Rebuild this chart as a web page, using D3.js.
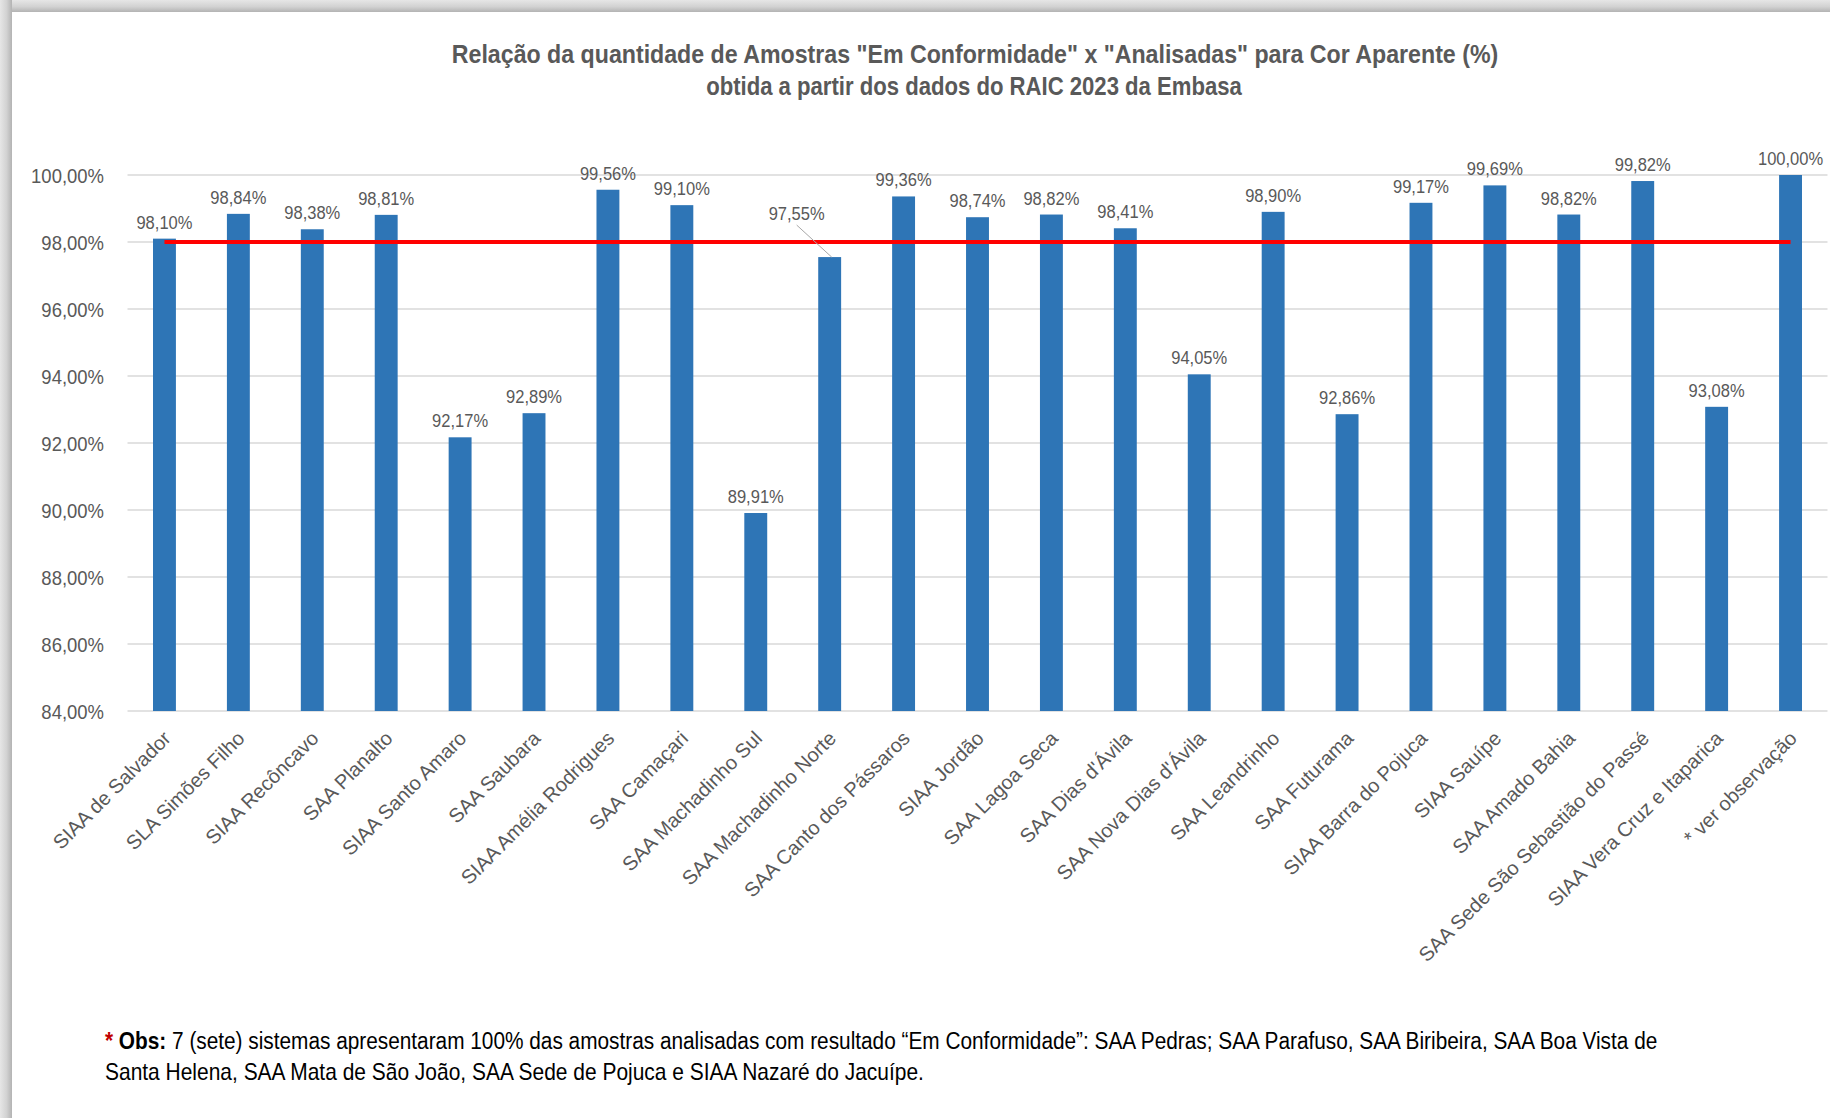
<!DOCTYPE html>
<html>
<head>
<meta charset="utf-8">
<script src="https://cdn.jsdelivr.net/npm/d3@7"></script>
<style>
  html, body { margin: 0; padding: 0; background: #fff; }
  svg { display: block; }
  text { font-family: "Liberation Sans", Arial, sans-serif; }
</style>
</head>
<body>
<svg id="chart" width="1830" height="1118"></svg>
<script>
// ---- data ----
const categories = [
  "SIAA de Salvador", "SLA Simões Filho", "SIAA Recôncavo", "SAA Planalto",
  "SIAA Santo Amaro", "SAA Saubara", "SIAA Amélia Rodrigues", "SAA Camaçari",
  "SAA Machadinho Sul", "SAA Machadinho Norte", "SAA Canto dos Pássaros", "SIAA Jordão",
  "SAA Lagoa Seca", "SAA Dias d'Ávila", "SAA Nova Dias d'Ávila", "SAA Leandrinho",
  "SAA Futurama", "SIAA Barra do Pojuca", "SIAA Sauípe", "SAA Amado Bahia",
  "SAA Sede São Sebastião do Passé", "SIAA Vera Cruz e Itaparica", "* ver observação"
];
const values = [
  98.10, 98.84, 98.38, 98.81, 92.17, 92.89, 99.56, 99.10, 89.91, 97.55, 99.36, 98.74,
  98.82, 98.41, 94.05, 98.90, 92.86, 99.17, 99.69, 98.82, 99.82, 93.08, 100.00
];
const yTicks = [84, 86, 88, 90, 92, 94, 96, 98, 100];
const targetValue = 98;
const titleLines = [
  "Relação da quantidade de Amostras \"Em Conformidade\" x \"Analisadas\" para Cor Aparente (%)",
  "obtida a partir dos dados do RAIC 2023 da Embasa"
];
const obsLine1Rest = " 7 (sete) sistemas apresentaram 100% das amostras analisadas com resultado “Em Conformidade”: SAA Pedras; SAA Parafuso, SAA Biribeira, SAA Boa Vista de";
const obsLine2 = "Santa Helena, SAA Mata de São João, SAA Sede de Pojuca e SIAA Nazaré do Jacuípe.";

// ---- setup ----
const W = 1830, H = 1118;
const svg = d3.select("#chart");
const locale = d3.formatLocale({decimal: ",", thousands: ".", grouping: [3], currency: ["", ""]});
const fmt = v => locale.format(".2f")(v) + "%";

// frame shadow
const defs = svg.append("defs");
const gTop = defs.append("linearGradient").attr("id", "shTop").attr("x1", 0).attr("y1", 0).attr("x2", 0).attr("y2", 1);
gTop.append("stop").attr("offset", "0%").attr("stop-color", "#e6e6e6");
gTop.append("stop").attr("offset", "55%").attr("stop-color", "#d2d2d2");
gTop.append("stop").attr("offset", "100%").attr("stop-color", "#b3b3b3");
const gLeft = defs.append("linearGradient").attr("id", "shLeft").attr("x1", 0).attr("y1", 0).attr("x2", 1).attr("y2", 0);
gLeft.append("stop").attr("offset", "0%").attr("stop-color", "#e6e6e6");
gLeft.append("stop").attr("offset", "55%").attr("stop-color", "#d2d2d2");
gLeft.append("stop").attr("offset", "100%").attr("stop-color", "#b3b3b3");

svg.append("rect").attr("width", W).attr("height", H).attr("fill", "#fff");
svg.append("rect").attr("x", 0).attr("y", 0).attr("width", W).attr("height", 12).attr("fill", "url(#shTop)");
svg.append("rect").attr("x", 0).attr("y", 0).attr("width", 12).attr("height", H).attr("fill", "url(#shLeft)");

// scales
const x = d3.scaleBand().domain(categories).range([127.5, 1827.5]).paddingInner(0.69).paddingOuter(0.345);
const y = d3.scaleLinear().domain([84, 100]).range([711, 175]);
const cx = c => x(c) + x.bandwidth() / 2;

// helper: fit text horizontally
function fit(sel, tx, ty, targetW) {
  const w = sel.node().getComputedTextLength();
  const k = targetW / w;
  sel.attr("transform", `translate(${tx},${ty}) scale(${k},1)`);
}

// title
const title = svg.append("g");
const t1 = title.append("text").attr("text-anchor", "middle").attr("font-weight", "bold")
  .attr("font-size", 25).attr("fill", "#595959").text(titleLines[0]);
fit(t1, 975, 63, 1047);
const t2 = title.append("text").attr("text-anchor", "middle").attr("font-weight", "bold")
  .attr("font-size", 25).attr("fill", "#595959").text(titleLines[1]);
fit(t2, 974, 95, 536);

// gridlines
svg.append("g").selectAll("line").data(yTicks).join("line")
  .attr("x1", x.range()[0]).attr("x2", x.range()[1])
  .attr("y1", d => y(d)).attr("y2", d => y(d))
  .attr("stroke", "#d9d9d9").attr("stroke-width", 1.5);

// y axis labels
const yAxis = d3.axisLeft(y).tickValues(yTicks).tickFormat(fmt).tickSize(0).tickPadding(0);
const yg = svg.append("g").attr("transform", "translate(104,0)").call(yAxis);
yg.select(".domain").remove();
yg.selectAll(".tick text")
  .attr("font-family", "Liberation Sans, Arial, sans-serif")
  .attr("font-size", 21).attr("fill", "#595959")
  .attr("x", 0).attr("dy", "0.35em")
  .attr("transform", "scale(0.88,1)");

// bars
svg.append("g").selectAll("rect").data(values).join("rect")
  .attr("x", (d, i) => x(categories[i]))
  .attr("width", x.bandwidth())
  .attr("y", d => y(d))
  .attr("height", d => y(84) - y(d))
  .attr("fill", "#2E75B6");

// target line
svg.append("line")
  .attr("x1", cx(categories[0])).attr("x2", cx(categories[categories.length - 1]))
  .attr("y1", y(targetValue)).attr("y2", y(targetValue))
  .attr("stroke", "#FF0000").attr("stroke-width", 4);

// data labels
const offsets = {9: [-33, -27]};
const lg = svg.append("g");
values.forEach((v, i) => {
  const c = cx(categories[i]);
  const top = y(v);
  const off = offsets[i] || [0, 0];
  const lx = c + off[0];
  const ly = top - 10 + off[1];
  if (offsets[i]) {
    lg.append("line").attr("x1", lx).attr("y1", ly + 5).attr("x2", c + 2).attr("y2", top)
      .attr("stroke", "#a6a6a6").attr("stroke-width", 1);
  }
  lg.append("text").attr("text-anchor", "middle").attr("font-size", 19).attr("fill", "#595959")
    .attr("transform", `translate(${lx},${ly}) scale(0.87,1)`).text(fmt(v));
});

// x labels
svg.append("g").selectAll("text").data(categories).join("text")
  .attr("text-anchor", "end")
  .attr("font-size", 20).attr("fill", "#595959")
  .attr("dy", "0.75em")
  .attr("transform", d => `translate(${cx(d) - 3},${729}) rotate(-45)`)
  .text(d => d);

// obs
const o1 = svg.append("text").attr("font-size", 23).attr("fill", "#000");
o1.append("tspan").attr("fill", "#c00000").attr("font-weight", "bold").text("*");
o1.append("tspan").attr("font-weight", "bold").text(" Obs:");
o1.append("tspan").text(obsLine1Rest);
fit(o1, 105, 1049, 1553);
const o2 = svg.append("text").attr("font-size", 23).attr("fill", "#000").text(obsLine2);
fit(o2, 105, 1080, 819);
</script>
</body>
</html>
